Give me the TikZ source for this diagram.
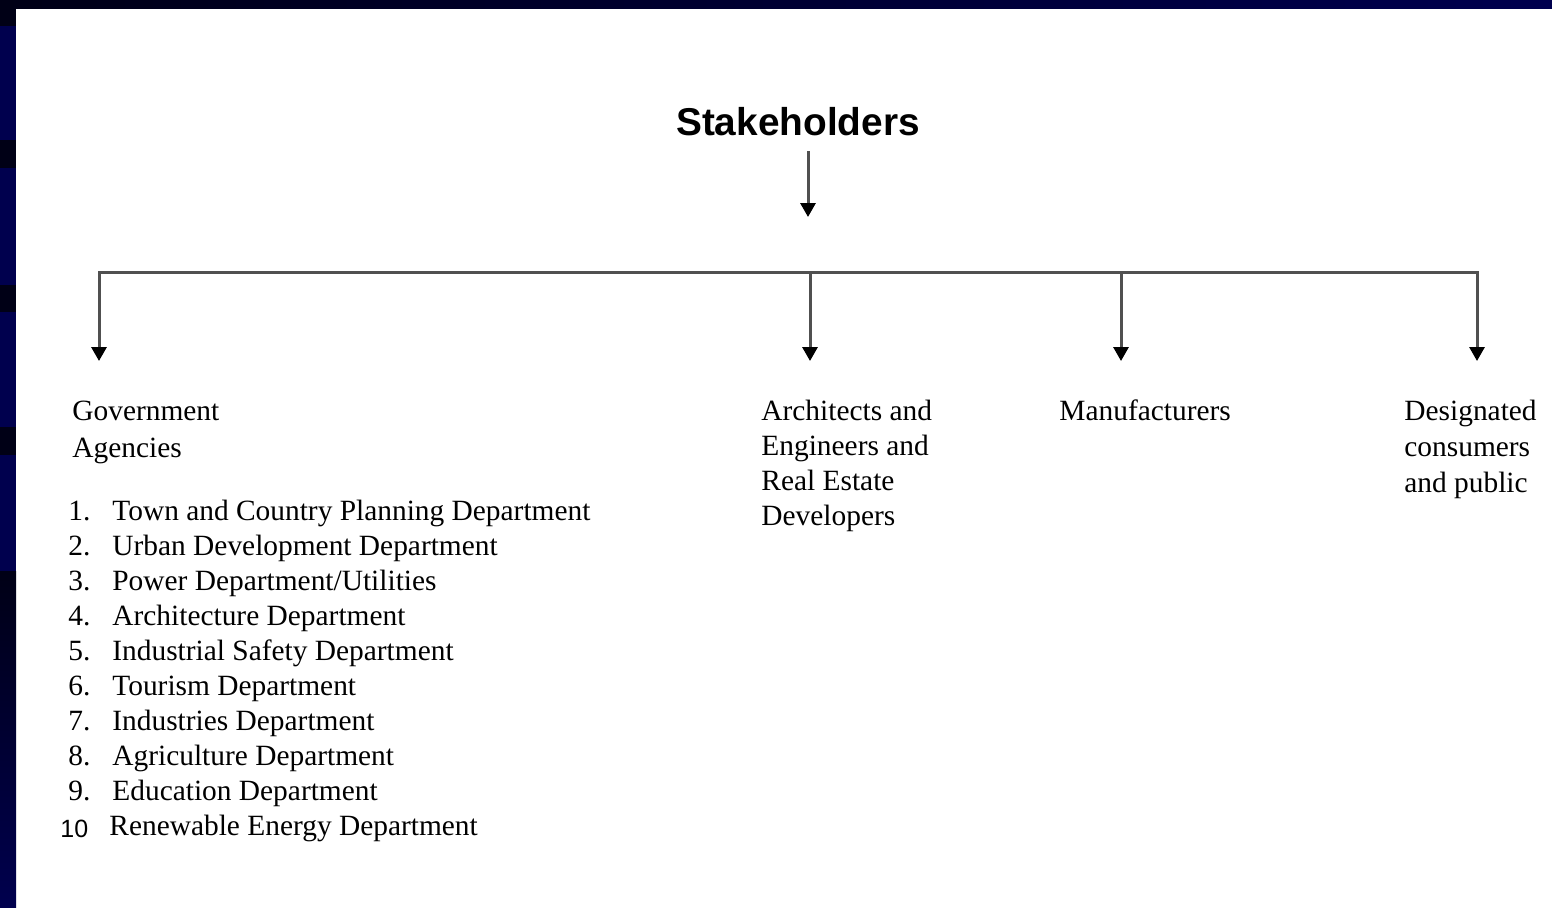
\documentclass[tikz,border=0pt]{standalone}
\usepackage{fontspec}
\setmainfont{Liberation Serif}
\newfontfamily\headfont{Liberation Sans}
\usetikzlibrary{arrows.meta}
\usetikzlibrary{shadings}

\definecolor{slidenavy}{RGB}{0,0,78}
\definecolor{slidedark}{RGB}{0,0,22}
\definecolor{linegrey}{RGB}{80,80,80}

\tikzset{
    labeltext/.style={anchor=base west, inner sep=0pt, font=\fontsize{14.7}{17}\selectfont},
    headtext/.style={anchor=base, inner sep=0pt, font=\headfont\bfseries\fontsize{19.4}{22}\selectfont},
    downarrow/.style={draw=linegrey, line width=1.5pt, -{Triangle[length=7pt,width=7.5pt,color=black]}},
    busline/.style={draw=linegrey, line width=1.5pt, line cap=rect},
}

\begin{document}
\begin{tikzpicture}[x=0.5pt, y=-0.5pt]
    \useasboundingbox (0,0) rectangle (1552,907);
    % slide background and dark frame
    \fill [white] (0,0) rectangle (1552,907);
    \shade [left color=slidedark, right color=slidenavy] (0,0) rectangle (1552,8);
    \fill [slidenavy] (0,8) rectangle (16,571);
    \foreach \a/\b in {8/26,140/168,285/312,427/455}{
        \fill [slidedark] (0,\a) rectangle (16,\b);
    }
    \shade [top color=slidedark, bottom color=slidenavy] (0,571) rectangle (16,907);

    % title and its arrow
    \node [headtext] (stake) at (798,135) {Stakeholders};
    \coordinate (stakeout) at (808,151);
    \coordinate (hub) at (808,217);
    \draw [downarrow] (stakeout) -- (hub);

    % branches of the bus
    \foreach \name/\xx in {G/99,A/810,M/1121,D/1477}{
        \coordinate (bus\name) at (\xx,272);
        \coordinate (tip\name) at (\xx,361);
        \draw [downarrow] (bus\name) -- (tip\name);
    }
    \draw [busline] (busG) -- (busD);

    % groups of stakeholders
    \foreach \txt [count=\n, evaluate=\n as \yy using 420+37*(\n-1)] in {Government, Agencies}{
        \node [labeltext] (gov\n) at (72,\yy) {\txt};
    }
    \foreach \txt [count=\n, evaluate=\n as \yy using 420+35.3*(\n-1)] in {Architects and, Engineers and, Real Estate, Developers}{
        \node [labeltext] (arch\n) at (761,\yy) {\txt};
    }
    \node [labeltext] (manu) at (1059,420) {Manufacturers};
    \foreach \txt [count=\n, evaluate=\n as \yy using 420+36*(\n-1)] in {Designated, consumers, and public}{
        \node [labeltext] (desig\n) at (1404,\yy) {\txt};
    }

    % list of government agencies
    \foreach \txt [count=\n, evaluate=\n as \yy using 520+35*(\n-1)] in {
        Town and Country Planning Department,
        Urban Development Department,
        Power Department/Utilities,
        Architecture Department,
        Industrial Safety Department,
        Tourism Department,
        Industries Department,
        Agriculture Department,
        Education Department}{
        \node [labeltext] (num\n) at (68,\yy) {\n.};
        \node [labeltext] (item\n) at (112,\yy) {\txt};
    }
    \node [labeltext, font=\headfont\fontsize{12.5}{15}\selectfont] (num10) at (60,837) {10};
    \node [labeltext] (item10) at (109,835) {Renewable Energy Department};
\end{tikzpicture}
\end{document}
